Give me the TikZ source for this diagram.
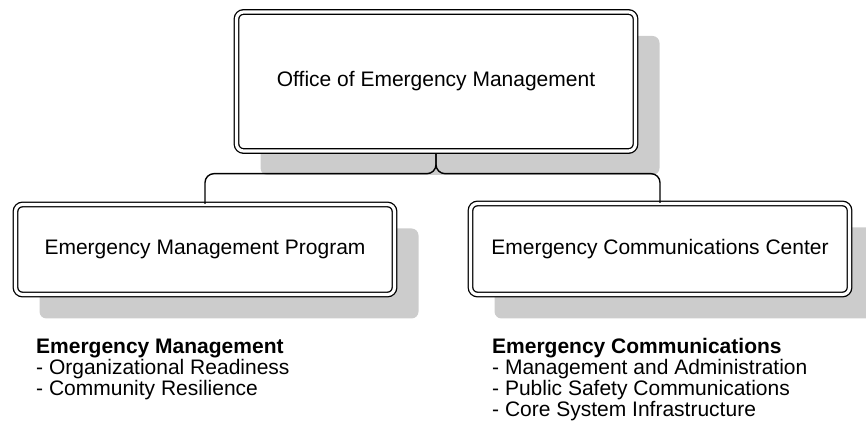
\documentclass[tikz,border=0pt]{standalone}
\usepackage{fontspec}
\setmainfont{Liberation Sans}
\usetikzlibrary{shadows}

\begin{document}
\begin{tikzpicture}[x=1pt, y=1pt,
    unit/.style ={rectangle, draw, rounded corners=7pt, line width=1.3pt, double=white, double distance=3.2pt,
                  fill=white, font=\fontsize{21}{21}\selectfont, inner sep=0pt,
                  drop shadow={shadow xshift=24pt, shadow yshift=-24pt, fill=black!20, opacity=1}},
    duties/.style ={anchor=north west, align=left, inner sep=0pt, font=\fontsize{21}{21}\selectfont},
    link/.style ={line width=1.4pt, rounded corners=9pt}]
   \useasboundingbox (0,0) rectangle (866,428);

   \node[unit, minimum width=399pt, minimum height=139pt] (oem) at (436,346.5) {Office of Emergency Management};
   \node[unit, minimum width=379pt, minimum height=90pt] (emp) at (205,178.5) {Emergency Management Program};
   \node[unit, minimum width=379pt, minimum height=91pt] (ecc) at (660,179) {Emergency Communications Center};

   \draw[link, shorten <=2pt] (oem.south) -- ++(0,-22) -| (emp.north);
   \draw[link, shorten <=2pt] (oem.south) -- ++(0,-22) -| (ecc.north);

   \node[duties] (empduties) at (36,89.5) {\textbf{Emergency Management}\\- Organizational Readiness\\- Community Resilience};
   \node[duties] (eccduties) at (492,89.5) {\textbf{Emergency Communications}\\- Management and Administration\\- Public Safety Communications\\- Core System Infrastructure};
 \end{tikzpicture}
\end{document}
